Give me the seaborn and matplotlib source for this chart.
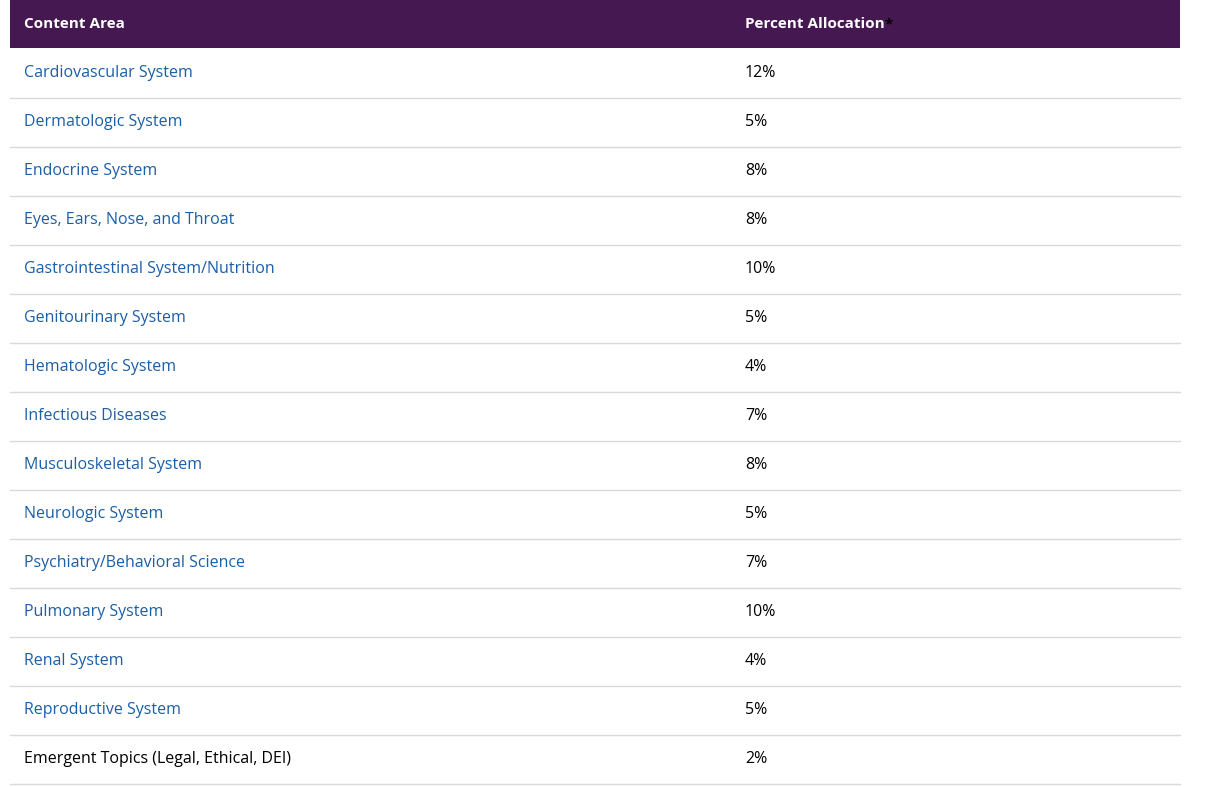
import matplotlib
matplotlib.use("Agg")
import matplotlib.pyplot as plt
import seaborn as sns
from matplotlib.patches import Rectangle

categories = ["Cardiovascular System", "Dermatologic System", "Endocrine System",
              "Eyes, Ears, Nose, and Throat", "Gastrointestinal System/Nutrition",
              "Genitourinary System", "Hematologic System", "Infectious Diseases",
              "Musculoskeletal System", "Neurologic System", "Psychiatry/Behavioral Science",
              "Pulmonary System", "Renal System", "Reproductive System",
              "Emergent Topics (Legal, Ethical, DEI)"]
percents = [12, 5, 8, 8, 10, 5, 4, 7, 8, 5, 7, 10, 4, 5, 2]
headers = ["Content Area", "Percent Allocation"]

sns.set_theme(style="white")
plt.rcParams['font.family'] = ['Open Sans', 'DejaVu Sans']

fig = plt.figure(figsize=(12.13, 7.87), dpi=100)
ax = fig.add_axes([0, 0, 1, 1])
ax.set_xlim(0, 1213)
ax.set_ylim(787, 0)
ax.axis("off")

purple = "#461851"
ax.add_patch(Rectangle((10, 0), 1170, 48, color=purple, lw=0))
ax.text(24, 24, headers[0], color="white", fontsize=11, fontweight="bold", va="center")
t = ax.text(745, 24, headers[1], color="white", fontsize=11, fontweight="bold", va="center")
fig.canvas.draw()
bb = t.get_window_extent().transformed(ax.transData.inverted())
ax.text(bb.x1, 24, "*", color="black", fontsize=11, fontweight="bold", va="center")

for i, (c, p) in enumerate(zip(categories, percents)):
    y = 73 + 49 * i
    col = "black" if i == len(categories) - 1 else "#1b5fa6"
    ax.text(24, y, c, color=col, fontsize=11.5, va="center")
    ax.text(745, y, f"{p}%", color="black", fontsize=11.5, va="center")
    ax.plot([10, 1180], [y + 24.5, y + 24.5], color="#d9d9d9", lw=1)

fig.savefig("out.png", dpi=100)
